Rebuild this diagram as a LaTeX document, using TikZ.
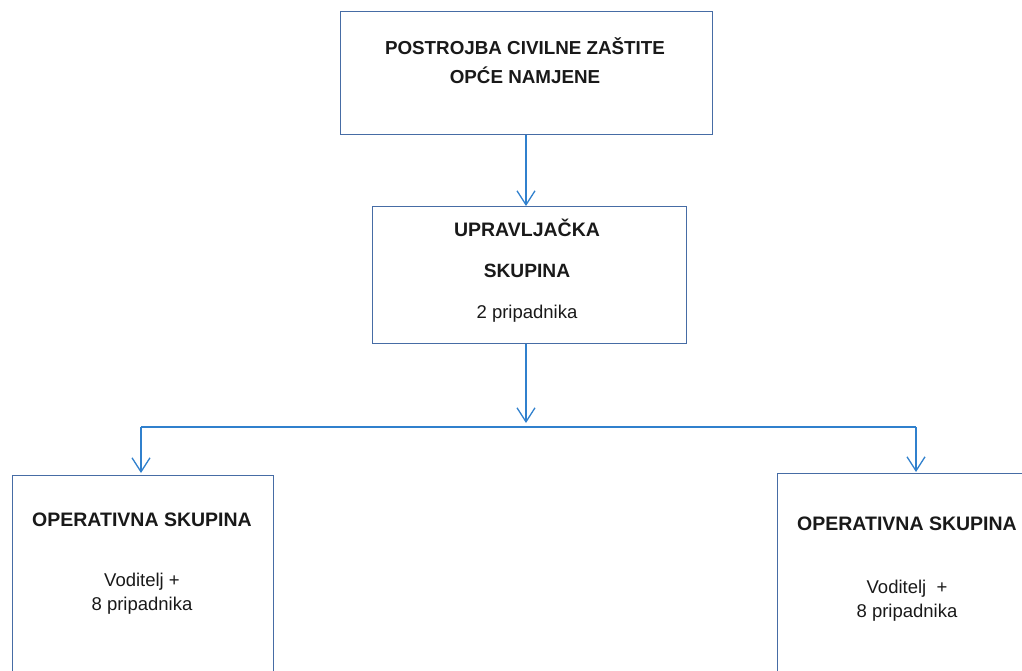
\documentclass[tikz,border=0pt]{standalone}
\usepackage{fontspec}
\setmainfont{Liberation Sans}
\usepackage{tikz}
\usetikzlibrary{arrows.meta}
\definecolor{boxblue}{RGB}{70,108,165}
\definecolor{arrblue}{RGB}{48,128,205}
\definecolor{txt}{RGB}{25,25,25}

\begin{document}
\begin{tikzpicture}[x=1pt, y=-1pt, inner sep=0pt]
    \tikzstyle{box}=[rectangle, draw=boxblue, line width=1.3pt, anchor=north west]
    \tikzstyle{lbl}=[text=txt, align=center, font=\fontsize{18.5}{24}\selectfont]
    \tikzstyle{ttl}=[lbl, font=\fontsize{19.5}{24}\selectfont\bfseries]
    \tikzstyle{conn}=[draw=arrblue, line width=1.3pt]
    \tikzstyle{arr}=[-{Straight Barb[length=14pt, width=18pt, line width=1.3pt]}, draw=arrblue, line width=1.3pt]

    \useasboundingbox (0,0) rectangle (1022,670);

    % boxes
    \node[box, minimum width=372pt, minimum height=123pt] (pcz) at (340,11) {};
    \node[box, minimum width=314pt, minimum height=137pt] (upr) at (372,206) {};
    \node[box, minimum width=261pt, minimum height=240pt] (opl) at (12,475) {};
    \node[box, minimum width=261pt, minimum height=240pt] (opd) at (777,473) {};

    % texts
    \node[lbl, font=\fontsize{18.8}{29}\selectfont\bfseries] (pczt) at (525,61) {POSTROJBA CIVILNE ZAŠTITE\\OPĆE NAMJENE};
    \node[lbl, font=\fontsize{18.5}{41}\selectfont] (uprt) at (527,271) {{\fontsize{19.5}{41}\selectfont\bfseries UPRAVLJAČKA}\\{\fontsize{19.2}{41}\selectfont\bfseries SKUPINA}\\2 pripadnika};
    \node[ttl] (oplt) at (142,520) {OPERATIVNA SKUPINA};
    \node[lbl] (opln) at (142,594) {Voditelj +\\8 pripadnika};
    \node[ttl] (opdt) at (907,524) {OPERATIVNA SKUPINA};
    \node[lbl] (opdn) at (907,601) {Voditelj \ +\\8 pripadnika};

    % connectors
    \coordinate (split) at (526,427);
    \coordinate (lft) at (141,427);
    \coordinate (rgt) at (916,427);

    \draw[arr] (split |- pcz.south) to (split |- upr.north);
    \draw[arr] (split |- upr.south) to ([yshift=4pt] split);
    \draw[conn] (lft) to (rgt);
    \draw[arr] (lft) to ([yshift=2pt] lft |- opl.north);
    \draw[arr] (rgt) to ([yshift=1pt] rgt |- opd.north);
\end{tikzpicture}
\end{document}
